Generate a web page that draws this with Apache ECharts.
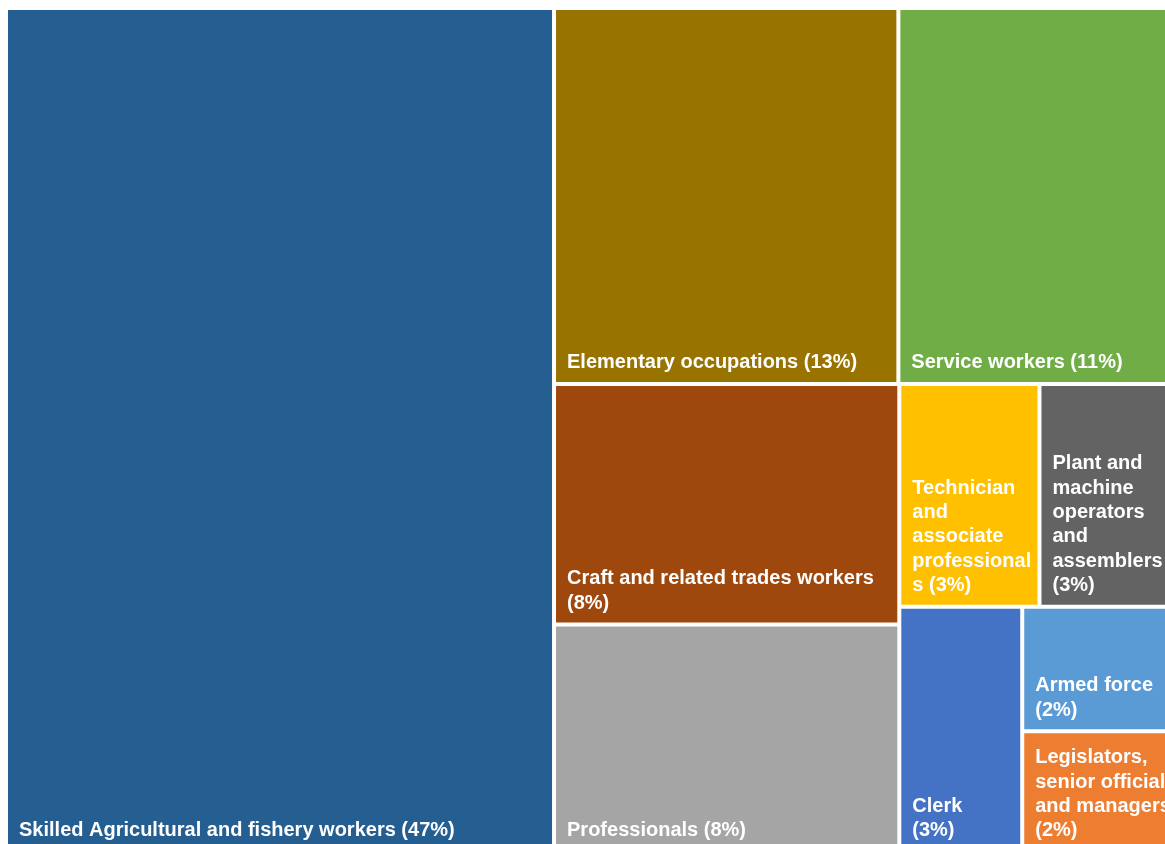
<!DOCTYPE html>
<html>
<head>
<meta charset="utf-8">
<title>Employment by occupation</title>
<script src="https://cdn.jsdelivr.net/npm/echarts@6/dist/echarts.min.js"></script>
<style>
  html, body { margin: 0; padding: 0; background: #ffffff; }
  #chart { width: 1165px; height: 844px; }
</style>
</head>
<body>
<div id="chart"></div>
<script>
// Occupation groups (label text keeps the line breaks used inside each cell)
const categories = [
  'Skilled Agricultural and fishery workers',
  'Elementary occupations',
  'Service workers',
  'Craft and related trades workers',
  'Professionals',
  'Technician\nand\nassociate\nprofessional\ns',
  'Plant and\nmachine\noperators\nand\nassemblers',
  'Clerk',
  'Armed force',
  'Legislators,\nsenior officials\nand managers'
];

// Share of employed population, percent
const shares = [46.8, 13.1, 10.6, 8.4, 7.95, 3.16, 3.10, 3.05, 1.95, 1.89];

// Separator placed between the name and the percentage
const percentSeparators = [' ', ' ', ' ', '\n', ' ', ' ', '\n', '\n', '\n', '\n'];

const cellColors = [
  '#255E91', '#997300', '#70AD47', '#9E480E', '#A5A5A5',
  '#FFC000', '#636363', '#4472C4', '#5B9BD5', '#ED7D31'
];

const total = shares.reduce((s, v) => s + v, 0);

const nodes = categories.map((name, i) => ({
  name: name,
  value: shares[i],
  itemStyle: { color: cellColors[i] },
  sep: percentSeparators[i]
}));

const chart = echarts.init(document.getElementById('chart'), null, { renderer: 'canvas' });

chart.setOption({
  animation: false,
  backgroundColor: '#ffffff',
  series: [{
    type: 'treemap',
    left: 8,
    top: 10,
    width: 1167,
    height: 840,
    squareRatio: 1,
    roam: false,
    nodeClick: false,
    breadcrumb: { show: false },
    itemStyle: {
      borderWidth: 0,
      gapWidth: 4,
      borderColor: '#ffffff'
    },
    label: {
      show: true,
      position: 'insideBottomLeft',
      distance: 0,
      padding: [0, 0, 7, 11],
      color: '#ffffff',
      fontFamily: '"Liberation Sans", Arial, sans-serif',
      fontWeight: 'bold',
      fontSize: 20,
      lineHeight: 24.4,
      overflow: 'none',
      formatter: function (p) {
        const pct = Math.round(p.value / total * 100);
        return p.name + p.data.sep + '(' + pct + '%)';
      }
    },
    upperLabel: { show: false },
    data: nodes
  }]
});
</script>
</body>
</html>
